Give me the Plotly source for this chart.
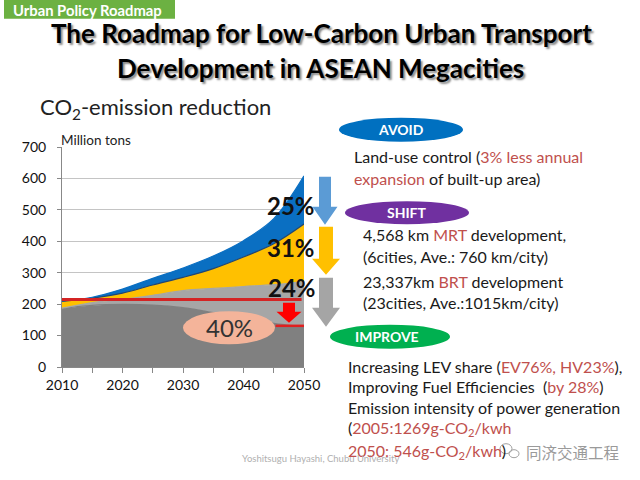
import plotly.graph_objects as go

# ---------------- data ----------------
years = [2010, 2015, 2020, 2025, 2030, 2035, 2040, 2045, 2050]
bau_total = [210, 222, 248, 282, 315, 353, 402, 472, 608]      # top of blue (business as usual)
after_avoid = [209, 219, 235, 261, 285, 313, 350, 392, 455]     # top of yellow
after_shift = [187, 205, 215, 228, 243, 250, 256, 262, 272]     # top of light gray
after_improve = [186, 196, 199, 197, 189, 173, 156, 139, 128]   # top of dark gray
level_2010 = 215
target_2050 = 131
y_ticks = [0, 100, 200, 300, 400, 500, 600, 700]
x_ticks = [2010, 2020, 2030, 2040, 2050]
pct_labels = ["25%", "31%", "24%"]
reduction_label = "40%"

# ---------------- layout helpers (pixel -> paper) ----------------
L, R, T, B = 62, 304, 147.3, 367.3
def xp(x):
    return (x - L) / (R - L)
def yp(y):
    return (B - y) / (B - T)

FONT = "Lato"
fig = go.Figure()

series = [
    (after_improve, "#808080", "#808080", "tozeroy"),
    (after_shift, "#a6a6a6", "#a6a6a6", "tonexty"),
    (after_avoid, "#ffc000", "#24466e", "tonexty"),
    (bau_total, "#0a6fc2", "#0a6fc2", "tonexty"),
]
for vals, fillc, linec, fillmode in series:
    fig.add_trace(go.Scatter(
        x=years, y=vals, mode="lines", fill=fillmode, fillcolor=fillc,
        line=dict(color=linec, width=1.2, shape="spline"), hoverinfo="skip",
        showlegend=False))

shapes = []
# red horizontal lines
shapes.append(dict(type="line", xref="x", yref="y", x0=2010, x1=2049.6,
                   y0=level_2010, y1=level_2010, line=dict(color="#d42424", width=3)))
shapes.append(dict(type="line", xref="x", yref="y", x0=2045.3, x1=2050,
                   y0=target_2050, y1=target_2050, line=dict(color="#e02020", width=2.5)))

def arrow(cx, top, tip, shw, hhw, hl, color):
    pts = [(cx - shw, top), (cx + shw, top), (cx + shw, tip - hl), (cx + hhw, tip - hl),
           (cx, tip), (cx - hhw, tip - hl), (cx - shw, tip - hl)]
    path = "M " + " L ".join(f"{xp(a):.4f},{yp(b):.4f}" for a, b in pts) + " Z"
    return dict(type="path", xref="paper", yref="paper", path=path,
                fillcolor=color, line=dict(width=0))

shapes.append(arrow(325, 177, 225, 6, 12.5, 18, "#5b9bd5"))
shapes.append(arrow(326, 227, 275, 7, 14, 16, "#ffc000"))
shapes.append(arrow(326, 278, 327, 7, 14, 19, "#a5a5a5"))
shapes.append(arrow(289, 303, 323, 6, 12.5, 11, "#ff0000"))

def ellipse(cx, cy, rx, ry, color, line=None):
    return dict(type="circle", xref="paper", yref="paper",
                x0=xp(cx - rx), x1=xp(cx + rx), y0=yp(cy + ry), y1=yp(cy - ry),
                fillcolor=color, line=line or dict(width=0))

shapes.append(ellipse(229, 328, 46, 16.5, "#f4b49a"))
shapes.append(ellipse(401, 130, 62, 12, "#0070c0"))
shapes.append(ellipse(407, 213, 62, 11.5, "#7030a0"))
shapes.append(ellipse(390, 337, 60, 12, "#00b050"))
# small chat-bubble icon of the watermark
shapes.append(ellipse(506, 449, 6, 5, "rgba(0,0,0,0)", dict(color="#a0a0a0", width=1)))
shapes.append(ellipse(514, 454, 5, 4, "rgba(0,0,0,0)", dict(color="#a0a0a0", width=1)))

# green header tab
shapes.append(dict(type="rect", xref="paper", yref="paper",
                   x0=xp(4), x1=xp(175), y0=yp(19), y1=yp(-2),
                   fillcolor="#6cb142", line=dict(width=0)))

ann = []
def text(x, y, s, size, color="#1a1a1a", bold=False, anchor="left", family=FONT, shadow=None):
    f = dict(family=family, size=size, color=color, weight="bold" if bold else "normal")
    if shadow:
        f["shadow"] = shadow
    ann.append(dict(xref="paper", yref="paper", x=xp(x), y=yp(y), text=s,
                    showarrow=False, xanchor=anchor, yanchor="middle", align=anchor,
                    font=f))

RED = "#c0504d"
def red(s):
    return f"<span style='color:{RED}'>{s}</span>"

text(11, 10, "Urban Policy Roadmap", 14.8, "#ffffff", True)
text(321, 33, "The Roadmap for Low-Carbon Urban Transport", 26, "#000000", True, "center",
     shadow="2px 2px 2px #8a8a8a")
text(320, 68, "Development in ASEAN Megacities", 26, "#000000", True, "center",
     shadow="2px 2px 2px #8a8a8a")
text(38, 108, "CO<sub>2</sub>-emission reduction", 22, "#222222")
text(59, 140, "Million tons", 13.5, "#222222")

text(291, 206, pct_labels[0], 24, "#111111", True, "center")
text(291, 248, pct_labels[1], 24, "#111111", True, "center")
text(292, 288, pct_labels[2], 24, "#111111", True, "center")
text(229, 328, reduction_label, 24, "#333333", False, "center")

text(401, 130, "AVOID", 14, "#ffffff", True, "center")
text(407, 213, "SHIFT", 14, "#ffffff", True, "center")
text(387, 337, "IMPROVE", 14, "#ffffff", True, "center")

FS = 16
text(352, 157, "Land-use control (" + red("3% less annual"), FS)
text(352, 179, red("expansion") + " of built-up area)", FS)
text(361, 235, "4,568 km " + red("MRT") + " development,", FS)
text(361, 257, "(6cities, Ave.: 760 km/city)", FS)
text(361, 282, "23,337km " + red("BRT") + " development", FS)
text(361, 303, "(23cities, Ave.:1015km/city)", FS)
text(346, 367, "Increasing LEV share (" + red("EV76%, HV23%") + "),", FS)
text(346, 387, "Improving Fuel Efficiencies  (" + red("by 28%") + ")", FS)
text(346, 408, "Emission intensity of power generation", FS)
text(346, 429, "(" + red("2005:1269g-CO<sub>2</sub>/kwh"), FS)
text(346, 452, red("2050: 546g-CO<sub>2</sub>/kwh") + ")", FS)

text(240, 459, "Yoshitsugu Hayashi, Chubu University", 9.5, "#b0b0b0")
text(524, 452, "同济交通工程", 15.5, "#9a9a9a", family="Noto Sans CJK SC")

fig.update_layout(
    width=640, height=480,
    margin=dict(l=L, r=640 - R, t=T, b=480 - B),
    paper_bgcolor="#ffffff", plot_bgcolor="#ffffff",
    shapes=shapes, annotations=ann,
    font=dict(family=FONT, size=14, color="#222222"),
    xaxis=dict(range=[2010, 2050], tickvals=x_ticks, ticks="outside", ticklen=5,
               tickcolor="#888888", showline=True, linecolor="#888888", showgrid=False,
               zeroline=False, tickfont=dict(size=14, color="#111111"),
               minor=dict(dtick=5, ticks="outside", ticklen=5, tickcolor="#888888")),
    yaxis=dict(range=[0, 700], tickvals=y_ticks, ticks="outside", ticklen=4,
               tickcolor="#888888", showline=True, linecolor="#888888",
               showgrid=True, gridcolor="#c4c4c4", gridwidth=1, zeroline=False,
               ticklabelstandoff=8,
               tickfont=dict(size=14, color="#111111")),
)

fig.write_html("out.html", config={"displayModeBar": False},
               post_script="document.body.style.margin='0';document.body.style.overflow='hidden';")
